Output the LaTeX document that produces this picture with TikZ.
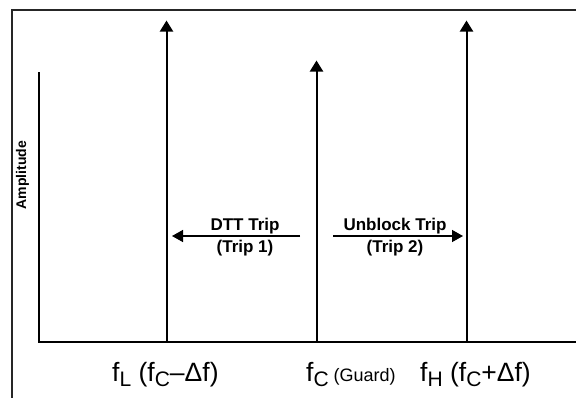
\documentclass[tikz,border=0pt]{standalone}
\usepackage{fontspec}
\setmainfont{Liberation Sans}
\usetikzlibrary{arrows.meta}
\newcommand{\lowsub}[1]{\raisebox{-5.5pt}{\fontsize{21}{21}\selectfont #1}}
\begin{document}
\begin{tikzpicture}[x=1pt,y=-1pt,
  frame/.style={line width=2.2pt,draw=black!85},
  axis/.style={line width=2pt},
  spike/.style={line width=2pt,-{Triangle[length=11pt,width=13pt]}},
  dirarrow/.style={line width=1.4pt,-{Triangle[length=11pt,width=12pt]}},
  boldlbl/.style={font=\fontsize{17}{17}\selectfont\bfseries, anchor=base, inner sep=0pt},
  freq/.style={font=\fontsize{26.5}{26.5}\selectfont, anchor=base west, inner sep=0pt}]
\useasboundingbox (0,0) rectangle (576,397);
% frame
\coordinate (fr1) at (12,400);
\coordinate (fr2) at (12,10);
\coordinate (fr3) at (580,10);
\draw[frame] (fr1) -- (fr2) -- (fr3);
% axes
\coordinate (ytop) at (38.5,72);
\coordinate (orig) at (38.5,342);
\coordinate (xend) at (580,342);
\draw[axis] (ytop) -- (orig) -- (xend);
% spikes
\coordinate (lb) at (166.5,342);
\coordinate (lt) at (166.5,20.5);
\coordinate (cb) at (316.5,342);
\coordinate (ct) at (316.5,60.5);
\coordinate (hb) at (466.5,342);
\coordinate (ht) at (466.5,20.5);
\draw[spike] (lb) -- (lt);
\draw[spike] (cb) -- (ct);
\draw[spike] (hb) -- (ht);
% direction arrows
\coordinate (a1s) at (300,236);
\coordinate (a1e) at (172,236);
\coordinate (a2s) at (333,236);
\coordinate (a2e) at (463,236);
\draw[dirarrow] (a1s) -- (a1e);
\draw[dirarrow] (a2s) -- (a2e);
\node[boldlbl] (dtt) at (245,230.5) {DTT Trip};
\node[boldlbl] (t1) at (245,252.5) {(Trip 1)};
\node[boldlbl] (ub) at (395,230.5) {Unblock Trip};
\node[boldlbl] (t2) at (395,252.5) {(Trip 2)};
% y label
\node[font=\fontsize{14}{14}\selectfont\bfseries, rotate=90, inner sep=0pt] (amp) at (22.5,175) {Amplitude};
% frequency labels
\node[freq] (fl) at (112,381) {f\lowsub{L} (f\lowsub{C}–Δf)};
\node[freq] (fc) at (306,381) {f\lowsub{C}{\fontsize{18}{18}\selectfont\ (Guard)}};
\node[freq] (fh) at (420,381) {f\lowsub{H} (f\lowsub{C}+Δf)};
\end{tikzpicture}
\end{document}
